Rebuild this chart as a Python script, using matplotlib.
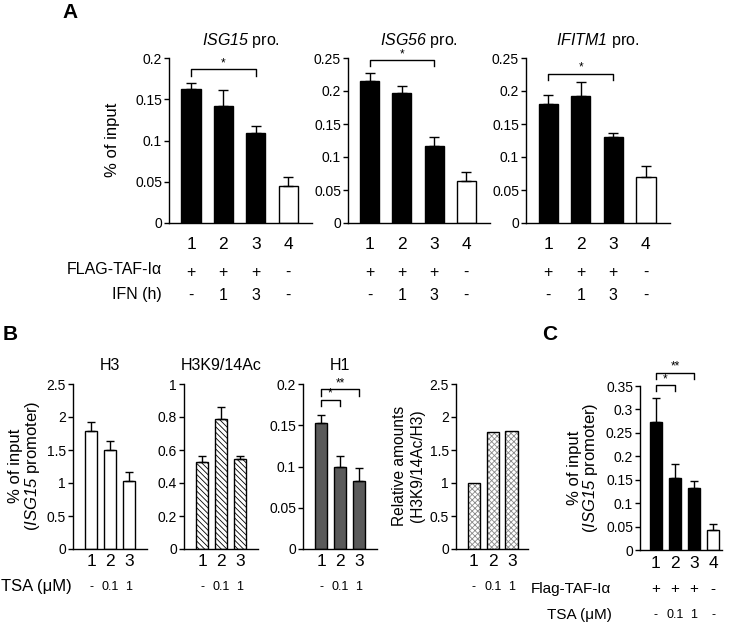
import matplotlib
matplotlib.use('Agg')
import matplotlib.pyplot as plt
from matplotlib.transforms import blended_transform_factory as btf

plt.rcParams['font.family'] = ['Liberation Sans', 'DejaVu Sans']
plt.rcParams['mathtext.fontset'] = 'custom'
plt.rcParams['mathtext.rm'] = 'Liberation Sans:italic'
plt.rcParams['mathtext.it'] = 'Liberation Sans:italic'
plt.rcParams['hatch.linewidth'] = 0.6

# ---------------- data ----------------
a_lanes = ['1', '2', '3', '4']
a_flag = ['+', '+', '+', '-']
a_ifn = ['-', '1', '3', '-']
isg15 = [0.163, 0.142, 0.109, 0.045]
isg15_err = [0.007, 0.019, 0.008, 0.011]
isg56 = [0.215, 0.197, 0.116, 0.063]
isg56_err = [0.012, 0.011, 0.014, 0.015]
ifitm1 = [0.180, 0.193, 0.130, 0.070]
ifitm1_err = [0.014, 0.020, 0.007, 0.016]
a_fill = ['black', 'black', 'black', 'white']
ticks_020 = [0, 0.05, 0.1, 0.15, 0.2]
ticks_025 = [0, 0.05, 0.1, 0.15, 0.2, 0.25]

b_lanes = ['1', '2', '3']
b_tsa = ['-', '0.1', '1']
h3 = [1.79, 1.50, 1.03]
h3_err = [0.13, 0.14, 0.13]
h3k9 = [0.53, 0.786, 0.548]
h3k9_err = [0.035, 0.077, 0.017]
h1 = [0.153, 0.099, 0.083]
h1_err = [0.010, 0.014, 0.015]
rel = [1.0, 1.77, 1.79]
ticks_25 = [0, 0.5, 1, 1.5, 2, 2.5]
ticks_1 = [0, 0.2, 0.4, 0.6, 0.8, 1]

c_lanes = ['1', '2', '3', '4']
c_flag = ['+', '+', '+', '-']
c_tsa = ['-', '0.1', '1', '-']
c_vals = [0.274, 0.153, 0.132, 0.043]
c_err = [0.051, 0.031, 0.016, 0.012]
ticks_035 = [0, 0.05, 0.1, 0.15, 0.2, 0.25, 0.3, 0.35]

W, H = 730, 625
fig = plt.figure(figsize=(7.3, 6.25), dpi=100)


def fy(y):
    return 1 - y / H


def add_ax(l, r, t, b, xlim):
    ax = fig.add_axes([l / W, 1 - b / H, (r - l) / W, (b - t) / H])
    ax.set_xlim(*xlim)
    for s in ['top', 'right']:
        ax.spines[s].set_visible(False)
    for s in ['left', 'bottom']:
        ax.spines[s].set_linewidth(1.0)
    ax.tick_params(axis='x', length=0, labelbottom=False)
    ax.tick_params(axis='y', length=3.5, width=1.0, pad=1.5, labelsize=10)
    return ax


def set_yticks(ax, ticks):
    ax.set_ylim(0, ticks[-1])
    ax.set_yticks(ticks)
    ax.set_yticklabels(['%g' % t for t in ticks])


def bars(ax, vals, errs, width, colors, capsize, **kw):
    xs = list(range(1, len(vals) + 1))
    ax.bar(xs, vals, width, color=colors, edgecolor='black', linewidth=1.0, zorder=2, **kw)
    if errs is not None:
        ax.errorbar(xs, vals, yerr=[[0] * len(errs), errs], fmt='none', ecolor='black',
                    elinewidth=1.0, capsize=capsize, capthick=1.0, zorder=3)
    return xs


def below(ax, labels, ypix, fs):
    tr = btf(ax.transData, fig.transFigure)
    for i, s in enumerate(labels):
        ax.text(i + 1, fy(ypix), s, transform=tr, ha='center', va='center', fontsize=fs)


def bracket(ax, x1, x2, ytop, ydrop, stars, fs=8.5):
    ax.plot([x1, x1, x2, x2], [ydrop, ytop, ytop, ydrop], color='black', lw=1.0, clip_on=False)
    ax.text((x1 + x2) / 2, ytop, stars, ha='center', va='bottom', fontsize=fs, clip_on=False)


# ---------------- panel A ----------------
xl_a = (0.32, 4.74)
axA1 = add_ax(169, 312, 58, 223, xl_a)
axA2 = add_ax(348, 490, 58, 223, xl_a)
axA3 = add_ax(526, 670, 58, 223, xl_a)

for ax, vals, errs, ticks, title in [
        (axA1, isg15, isg15_err, ticks_020, r'$\mathrm{ISG15}$ pro.'),
        (axA2, isg56, isg56_err, ticks_025, r'$\mathrm{ISG56}$ pro.'),
        (axA3, ifitm1, ifitm1_err, ticks_025, r'$\mathrm{IFITM1}$ pro.')]:
    set_yticks(ax, ticks)
    bars(ax, vals, errs, 0.59, a_fill, 3.6)
    below(ax, a_lanes, 244, 12.5)
    below(ax, a_flag, 272, 11.5)
    below(ax, a_ifn, 295, 11.5)
    ax.text(0.5, fy(40), title, transform=btf(ax.transAxes, fig.transFigure),
            ha='center', va='center', fontsize=11.5)

bracket(axA1, 1, 3, 0.1867, 0.178, '*')
bracket(axA2, 1, 3, 0.247, 0.238, '*')
bracket(axA3, 1, 3, 0.226, 0.217, '*')

fig.text(113 / W, fy(140), '% of input', rotation=90, ha='center', va='center', fontsize=12)
fig.text(162 / W, fy(270), 'FLAG-TAF-I\u03b1', ha='right', va='center', fontsize=11.5)
fig.text(162 / W, fy(295), 'IFN (h)', ha='right', va='center', fontsize=11.5)
fig.text(70 / W, fy(13), 'A', ha='center', va='center', fontsize=15, fontweight='bold')

# ---------------- panel B ----------------
xl_b = (0.05, 3.95)
axH3 = add_ax(73, 147, 384, 549, xl_b)
axK9 = add_ax(184, 258, 384, 549, xl_b)
axH1 = add_ax(303, 377, 384, 549, xl_b)
axRel = add_ax(456, 528, 384, 549, (0.05, 3.85))

set_yticks(axH3, ticks_25)
bars(axH3, h3, h3_err, 0.63, 'white', 3)
set_yticks(axK9, ticks_1)
bars(axK9, h3k9, h3k9_err, 0.63, 'white', 3, hatch='\\' * 6)
set_yticks(axH1, ticks_020)
bars(axH1, h1, h1_err, 0.63, '#5a5a5a', 3)
set_yticks(axRel, ticks_25)
xs_rel = list(range(1, len(rel) + 1))
axRel.bar(xs_rel, rel, 0.68, color='white', edgecolor='#8a8a8a', linewidth=0, hatch='x' * 6, zorder=2)
axRel.bar(xs_rel, rel, 0.68, color='none', edgecolor='black', linewidth=1.0, zorder=3)

bracket(axH1, 1, 2, 0.181, 0.173, '*')
bracket(axH1, 1, 3, 0.1935, 0.186, '**')

for ax, title in [(axH3, 'H3'), (axK9, 'H3K9/14Ac'), (axH1, 'H1')]:
    ax.text(0.5, fy(365), title, transform=btf(ax.transAxes, fig.transFigure),
            ha='center', va='center', fontsize=11.5)
for ax in [axH3, axK9, axH1, axRel]:
    below(ax, b_lanes, 562, 12.5)
    below(ax, b_tsa, 587, 9)

fig.text(16 / W, fy(466), '% of input', rotation=90, ha='center', va='center', fontsize=12)
fig.text(33 / W, fy(466), r'($\mathrm{ISG15}$ promoter)', rotation=90, ha='center', va='center', fontsize=12)
fig.text(400 / W, fy(466), 'Relative amounts', rotation=90, ha='center', va='center', fontsize=11.2)
fig.text(417 / W, fy(466), '(H3K9/14Ac/H3)', rotation=90, ha='center', va='center', fontsize=11.2)
fig.text(1 / W, fy(587), 'TSA (\u03bcM)', ha='left', va='center', fontsize=12)
fig.text(10 / W, fy(335), 'B', ha='center', va='center', fontsize=15, fontweight='bold')

# ---------------- panel C ----------------
axC = add_ax(640, 722, 386, 550, (0.16, 4.47))
set_yticks(axC, ticks_035)
bars(axC, c_vals, c_err, 0.66, ['black', 'black', 'black', 'white'], 3)
bracket(axC, 1, 2, 0.352, 0.340, '*')
bracket(axC, 1, 3, 0.378, 0.366, '**')
below(axC, c_lanes, 563, 12.5)
below(axC, c_flag, 589, 11)
below(axC, c_tsa, 615, 9)
fig.text(574 / W, fy(468), '% of input', rotation=90, ha='center', va='center', fontsize=12)
fig.text(591 / W, fy(468), r'($\mathrm{ISG15}$ promoter)', rotation=90, ha='center', va='center', fontsize=12)
fig.text(611 / W, fy(589), 'Flag-TAF-I\u03b1', ha='right', va='center', fontsize=11)
fig.text(612 / W, fy(615), 'TSA (\u03bcM)', ha='right', va='center', fontsize=11)
fig.text(550 / W, fy(335), 'C', ha='center', va='center', fontsize=15, fontweight='bold')

fig.savefig('out.png', dpi=100)
